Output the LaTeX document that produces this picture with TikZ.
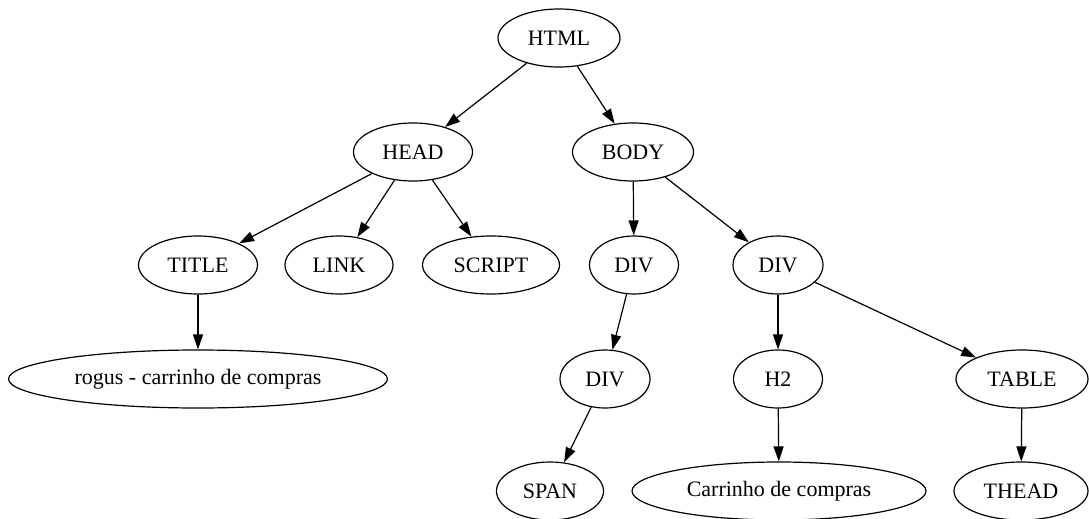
\documentclass[tikz,border=0pt]{standalone}
\usepackage{fontspec}
\setmainfont{Liberation Serif}
\usetikzlibrary{shapes.geometric,arrows.meta}

\begin{document}
\begin{tikzpicture}[x=1pt,y=-1pt,
    tag/.style={draw,ellipse,line width=1.2pt,inner sep=0pt,minimum height=58pt,
        font=\fontsize{22}{26}\selectfont},
    edge/.style={line width=1.2pt,-{Triangle[length=15pt,width=10pt]}}]
    \useasboundingbox (0,0) rectangle (1089,519);
    % root and first level
    \node[tag,minimum width=122pt] (html) at (559,38) {HTML};
    \node[tag,minimum width=119pt] (head) at (413,152) {HEAD};
    \node[tag,minimum width=121pt] (body) at (633,152) {BODY};
    % second level
    \node[tag,minimum width=119pt] (title) at (198,265) {TITLE};
    \node[tag,minimum width=108pt] (link) at (339,265) {LINK};
    \node[tag,minimum width=137pt] (script) at (491,265) {SCRIPT};
    \node[tag,minimum width=89pt] (divA) at (634,265) {DIV};
    \node[tag,minimum width=90pt] (divB) at (778,265) {DIV};
    % third level
    \node[tag,minimum width=379pt] (titletext) at (198,379) {rogus - carrinho de compras};
    \node[tag,minimum width=90pt] (divC) at (605,379) {DIV};
    \node[tag,minimum width=89pt] (htwo) at (778,379) {H2};
    \node[tag,minimum width=132pt] (table) at (1022,379) {TABLE};
    % leaves
    \node[tag,minimum width=107pt] (span) at (550,491) {SPAN};
    \node[tag,minimum width=294pt] (htwotext) at (779,491) {Carrinho de compras};
    \node[tag,minimum width=134pt] (thead) at (1021,491) {THEAD};

    \foreach \a/\b in {html/head,html/body,head/title,head/link,head/script,
        body/divA,body/divB,title/titletext,divA/divC,divC/span,
        divB/htwo,divB/table,htwo/htwotext,table/thead}{
        \draw[edge] (\a) -- (\b);
    }
\end{tikzpicture}
\end{document}
